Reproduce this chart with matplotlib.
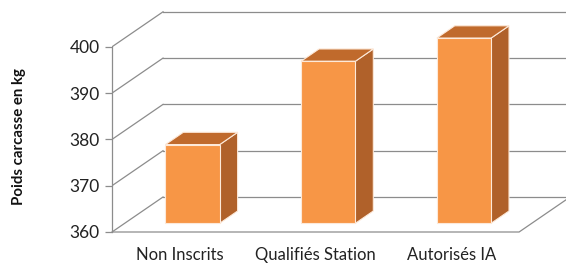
import matplotlib
matplotlib.use("Agg")
import matplotlib.pyplot as plt
from matplotlib.patches import Polygon, Rectangle

plt.rcParams['font.family'] = ['Lato', 'DejaVu Sans']

# data
categories = ["Non Inscrits", "Qualifiés Station", "Autorisés IA"]
poids = [377, 395, 400]
y_ticks = [360, 370, 380, 390, 400]
y_label = "Poids carcasse en kg"

# pseudo-3D geometry (data units)
DX, DY = 0.376, 7.56          # depth of the box
BAR_W = 0.40
F0, F1 = 0.25, 0.60           # bar front/back as fraction of depth
GRID = "#8c8c8c"
FRONT, SIDE, TOP, EDGE = "#F79646", "#B0612A", "#C06A2C", "#FDE9D9"

fig = plt.figure(figsize=(5.66, 2.68), dpi=100)
ax = fig.add_axes([112 / 566, 36 / 268, 454 / 566, 232 / 268])
ax.set_xlim(-0.5, -0.5 + 454 / 135.7)
ax.set_ylim(360, 360 + 232 / 4.63)
x0, x1 = -0.5, len(categories) - 0.5

# walls / gridlines
for v in y_ticks:
    ax.plot([x0, x0 + DX], [v, v + DY], color=GRID, lw=0.9, zorder=1)
    ax.plot([x0 + DX, x1 + DX + 0.1], [v + DY, v + DY], color=GRID, lw=0.9, zorder=1)
ax.plot([x0, x1, x1 + DX], [360, 360, 360 + DY], color=GRID, lw=0.9, zorder=1,
        clip_on=False)

# bars (front face sits F0 deep into the box, so it is shifted by F0*DX, F0*DY)
for i, v in enumerate(poids):
    fx = i - BAR_W / 2 + F0 * DX
    fy = 360 + F0 * DY
    ty = v + F0 * DY
    dx, dy = (F1 - F0) * DX, (F1 - F0) * DY
    side = [(fx + BAR_W, fy), (fx + BAR_W + dx, fy + dy),
            (fx + BAR_W + dx, ty + dy), (fx + BAR_W, ty)]
    top = [(fx, ty), (fx + BAR_W, ty), (fx + BAR_W + dx, ty + dy), (fx + dx, ty + dy)]
    ax.add_patch(Polygon(side, closed=True, fc=SIDE, ec=EDGE, lw=0.8, zorder=3))
    ax.add_patch(Polygon(top, closed=True, fc=TOP, ec=EDGE, lw=0.8, zorder=3))
    ax.add_patch(Rectangle((fx, fy), BAR_W, ty - fy, fc=FRONT, ec=EDGE, lw=0.8, zorder=4))

# axes styling
for s in ["top", "right", "bottom"]:
    ax.spines[s].set_visible(False)
ax.spines["left"].set_bounds(360, 400)
ax.spines["left"].set_color(GRID)
ax.spines["left"].set_linewidth(0.9)
ax.set_yticks(y_ticks)
ax.tick_params(axis="y", colors=GRID, length=5, width=0.9, labelsize=12.5, pad=4,
               labelcolor="#222222")
ax.set_xticks(range(len(categories)))
ax.set_xticklabels(categories, fontsize=12, color="#222222")
ax.tick_params(axis="x", length=0, pad=11)
ax.set_ylabel(y_label, fontsize=10.8, fontweight="bold", color="#111111")
ax.yaxis.set_label_coords(-86 / 454, (232 - 137) / 232)

fig.savefig("out.png", dpi=100)
